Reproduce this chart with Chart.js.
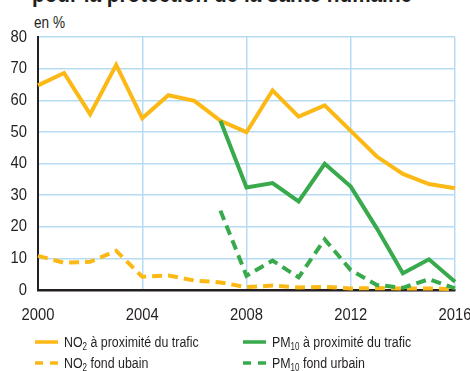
<!DOCTYPE html>
<html lang="fr">
<head>
<meta charset="utf-8">
<script src="https://cdn.jsdelivr.net/npm/chart.js@4.4.1/dist/chart.umd.min.js"></script>
<style>
    html, body { margin: 0; padding: 0; background: #fff; overflow: hidden; }
    body { width: 470px; height: 371px; position: relative; font-family: "Liberation Sans", Arial, sans-serif; color: #231f20; }
    #wrap { position: absolute; left: 0; top: 0; width: 470px; height: 371px; }
    #titre { position: absolute; left: 32px; top: -18.5px; font-size: 24px; line-height: 24px; font-weight: bold; white-space: nowrap; transform-origin: 0 0; }
    #unite { position: absolute; left: 34px; top: 13px; font-size: 16px; line-height: 20px; transform: scaleX(0.85); transform-origin: 0 0; }
    .leg { position: absolute; font-size: 15.5px; line-height: 18px; white-space: nowrap; display: flex; align-items: center; }
    .leg svg { margin-right: 6px; }
    .leg .txt { display: inline-block; transform: scaleX(0.8); transform-origin: 0 50%; }
    .leg sub { font-size: 10px; vertical-align: -3px; line-height: 0; }
</style>
</head>
<body>
<div id="titre">pour la protection de la santé humaine</div>
<div id="unite">en %</div>
<div id="wrap"><canvas id="chart" width="470" height="371"></canvas></div>
<div id="legende"></div>
<script>
// Années et séries (en %)
const annees = [2000, 2001, 2002, 2003, 2004, 2005, 2006, 2007, 2008, 2009, 2010, 2011, 2012, 2013, 2014, 2015, 2016];
const no2Trafic = [64.7, 68.6, 55.6, 71.2, 54.3, 61.6, 59.8, 53.5, 49.9, 63.1, 54.8, 58.4, 50.3, 42.2, 36.7, 33.5, 32.2];
const no2Fond = [10.8, 8.6, 8.9, 12.4, 4.2, 4.6, 3.0, 2.4, 0.9, 1.4, 0.8, 1.0, 0.5, 0.6, 0.5, 0.5, 0.3];
const pm10Trafic = [null, null, null, null, null, null, null, 53.5, 32.4, 33.8, 28.0, 39.9, 32.7, 19.5, 5.3, 9.7, 2.6];
const pm10Fond = [null, null, null, null, null, null, null, 25.1, 4.5, 9.3, 4.0, 16.0, 6.3, 1.6, 0.7, 3.4, 0.5];
const ticksY = [0, 10, 20, 30, 40, 50, 60, 70, 80];
const ticksX = [2000, 2004, 2008, 2012, 2016];

const JAUNE = '#fcb814';
const VERT = '#38aa4b';
const TEXTE = '#231f20';

function points(valeurs) {
    return annees.map((a, i) => ({ x: a, y: valeurs[i] }));
}

const series = [
    { label: 'NO2 à proximité du trafic', html: 'NO<sub>2</sub> à proximité du trafic', data: no2Trafic, color: JAUNE, dash: [] },
    { label: 'PM10 à proximité du trafic', html: 'PM<sub>10</sub> à proximité du trafic', data: pm10Trafic, color: VERT, dash: [] },
    { label: 'NO2 fond ubain', html: 'NO<sub>2</sub> fond ubain', data: no2Fond, color: JAUNE, dash: [10, 6] },
    { label: 'PM10 fond urbain', html: 'PM<sub>10</sub> fond urbain', data: pm10Fond, color: VERT, dash: [10, 6] }
];

const datasets = series.map(s => ({
    label: s.label,
    data: points(s.data),
    borderColor: s.color,
    backgroundColor: s.color,
    borderWidth: 4,
    borderDash: s.dash,
    pointRadius: 0,
    tension: 0,
    spanGaps: false,
    clip: 6
}));

// Les séries en pointillés passent sous les traits pleins
datasets[0].order = 1;
datasets[1].order = 0;
datasets[2].order = 3;
datasets[3].order = 2;

// Libellés des graduations en police étroite (compression horizontale)
const ETROIT = 0.87;
const graduations = {
    id: 'graduations',
    afterDraw(chart) {
        const ctx = chart.ctx;
        const sx = chart.scales.x;
        const sy = chart.scales.y;
        ctx.save();
        ctx.fillStyle = TEXTE;
        ctx.font = '17px "Liberation Sans", Arial, sans-serif';
        ctx.textBaseline = 'middle';
        ctx.textAlign = 'right';
        ticksY.forEach(v => {
            ctx.save();
            ctx.translate(sx.left - 11, sy.getPixelForValue(v));
            ctx.scale(ETROIT, 1);
            ctx.fillText(String(v), 0, 0);
            ctx.restore();
        });
        ctx.textAlign = 'center';
        ticksX.forEach(v => {
            ctx.save();
            ctx.translate(sx.getPixelForValue(v), sy.bottom + 25);
            ctx.scale(ETROIT, 1);
            ctx.fillText(String(v), 0, 0);
            ctx.restore();
        });
        ctx.restore();
    }
};

new Chart(document.getElementById('chart'), {
    type: 'line',
    data: { datasets: datasets },
    plugins: [graduations],
    options: {
        responsive: false,
        animation: false,
        layout: { padding: { left: 0, top: 37, right: 15, bottom: 0 } },
        plugins: {
            legend: { display: false },
            tooltip: { enabled: false }
        },
        scales: {
            x: {
                type: 'linear',
                min: 2000,
                max: 2016,
                afterBuildTicks: scale => { scale.ticks = ticksX.map(v => ({ value: v })); },
                afterFit: scale => { scale.height = 81; },
                ticks: { display: false },
                grid: { color: '#b6dcf3', lineWidth: 1.5, drawTicks: false },
                border: { color: TEXTE, width: 2.5 }
            },
            y: {
                min: 0,
                max: 80,
                afterBuildTicks: scale => { scale.ticks = ticksY.map(v => ({ value: v })); },
                afterFit: scale => { scale.width = 38; },
                ticks: { display: false },
                grid: { color: '#b6dcf3', lineWidth: 1.5, drawTicks: false },
                border: { color: TEXTE, width: 2 }
            }
        }
    }
});

// Titre resserré sur sa largeur
const titre = document.getElementById('titre');
titre.style.transform = 'scaleX(' + (380 / titre.offsetWidth) + ')';

// Légende HTML (indices en <sub>)
const legende = document.getElementById('legende');
const positions = [
    { left: 35, top: 333 },
    { left: 243, top: 333 },
    { left: 35, top: 354 },
    { left: 243, top: 354 }
];
series.forEach((s, i) => {
    const el = document.createElement('div');
    el.className = 'leg';
    el.style.left = positions[i].left + 'px';
    el.style.top = positions[i].top + 'px';
    const dash = s.dash.length ? 'stroke-dasharray="8 7"' : '';
    el.innerHTML = '<svg width="23" height="4"><line x1="0" y1="2" x2="23" y2="2" stroke="' + s.color + '" stroke-width="3.5" ' + dash + '/></svg><span class="txt">' + s.html + '</span>';
    legende.appendChild(el);
});
</script>
</body>
</html>
